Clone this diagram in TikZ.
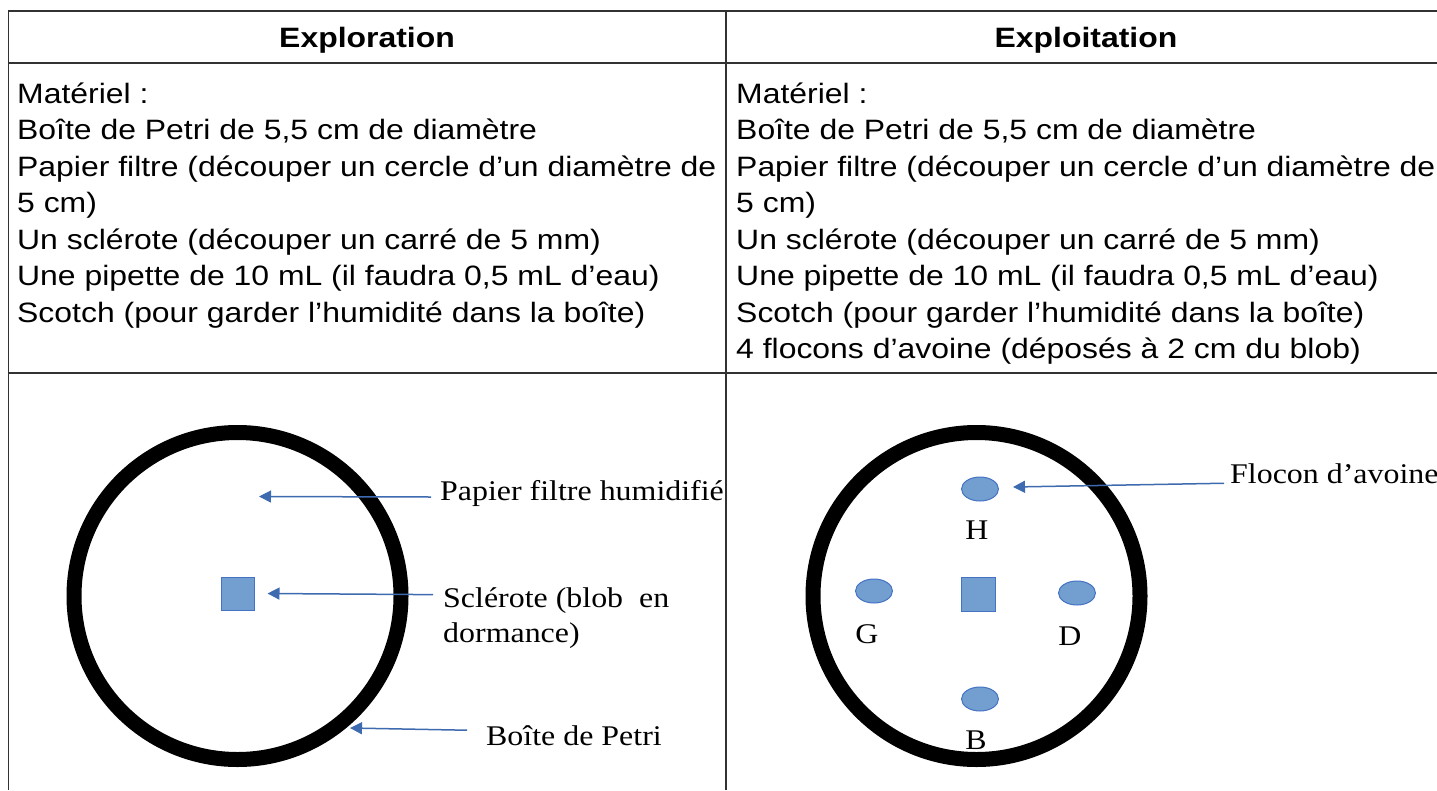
\documentclass[tikz,border=0pt]{standalone}
\usepackage{fontspec}
\setmainfont{Liberation Sans}[FakeStretch=1.14]
\newfontfamily\serifx{Liberation Serif}[FakeStretch=1.12]
\usetikzlibrary{arrows.meta,shapes.geometric}
\definecolor{gridc}{RGB}{50,50,50}
\definecolor{arrc}{RGB}{62,106,175}
\definecolor{fillc}{RGB}{114,159,207}
\definecolor{edgec}{RGB}{68,114,196}
\tikzset{
  grid line/.style={draw=gridc,line width=1.6pt},
  bodytxt/.style={anchor=base west,inner sep=0pt,font=\fontsize{28}{30}\selectfont},
  headtxt/.style={anchor=base,inner sep=0pt,font=\fontsize{28}{30}\selectfont\bfseries},
  lbl/.style={anchor=base west,inner sep=0pt,font=\serifx\fontsize{28.5}{30}\selectfont},
  letter/.style={anchor=base,inner sep=0pt,font=\serifx\fontsize{28.5}{30}\selectfont},
  callout/.style={draw=arrc,line width=1.5pt,-{Triangle[length=12pt,width=12pt]}},
  blob/.style={draw=edgec,line width=1pt,fill=fillc,inner sep=0pt},
  flake/.style={ellipse,draw=edgec,line width=1pt,fill=fillc,inner sep=0pt,minimum width=37pt,minimum height=24pt},
  dish/.style={draw=black,line width=15pt}
}
\begin{document}
\begin{tikzpicture}[x=1pt,y=-1pt]
\useasboundingbox (0,0) rectangle (1437,790);
% table
\draw[grid line] (8.5,11) -- (1437,11);
\draw[grid line] (8.5,63) -- (1437,63);
\draw[grid line] (8.5,373) -- (1437,373);
\draw[grid line] (8.5,10.2) -- (8.5,790);
\draw[grid line] (726,11) -- (726,790);
\node[headtxt] (h1) at (367,47) {Exploration};
\node[headtxt] (h2) at (1086,47) {Exploitation};
% column texts
\foreach \t [count=\i from 0] in {Matériel :,Boîte de Petri de 5{,}5 cm de diamètre,Papier filtre (découper un cercle d’un diamètre de,5 cm),Un sclérote (découper un carré de 5 mm),Une pipette de 10 mL (il faudra 0{,}5 mL d’eau),Scotch (pour garder l’humidité dans la boîte)}
  \node[bodytxt] (l\i) at (17,{103+36.5*\i}) {\t};
\foreach \t [count=\i from 0] in {Matériel :,Boîte de Petri de 5{,}5 cm de diamètre,Papier filtre (découper un cercle d’un diamètre de,5 cm),Un sclérote (découper un carré de 5 mm),Une pipette de 10 mL (il faudra 0{,}5 mL d’eau),Scotch (pour garder l’humidité dans la boîte),4 flocons d’avoine (déposés à 2 cm du blob)}
  \node[bodytxt] (r\i) at (736,{103+36.5*\i}) {\t};
% left dish
\draw[dish] (237.5,596) circle[radius=163.5];
\node[blob,minimum width=33pt,minimum height=33pt] (sq1) at (237.5,593.5) {};
\coordinate (paper) at (259,496.5);
\coordinate (rim) at (350,728);
\node[lbl] (lpap) at (440,500) {Papier filtre humidifié};
\node[lbl] (lscl) at (443,607) {Sclérote (blob\ \ en};
\node[lbl] (ldor) at (443,642) {dormance)};
\node[lbl] (lbox) at (486,745) {Boîte de Petri};
\draw[callout] ([xshift=-9pt,yshift=-4pt]lpap.west) -- (paper);
\draw[callout] ([xshift=-10pt,yshift=5.5pt]lscl.west) -- ([xshift=13pt]sq1.east);
\draw[callout] ([xshift=-19pt,yshift=5pt]lbox.west) -- (rim);
% right dish
\draw[dish] (976.5,596) circle[radius=163.5];
\node[blob,minimum width=34pt,minimum height=34pt] (sq2) at (978,594) {};
\node[flake] (fh) at (980,489) {};
\node[flake] (fg) at (874,591) {};
\node[flake] (fd) at (1077,593) {};
\node[flake] (fb) at (980,699) {};
\node[letter] (th) at (977,539) {H};
\node[letter] (tg) at (867,643) {G};
\node[letter] (td) at (1070,645) {D};
\node[letter] (tb) at (976,749) {B};
\coordinate (flk) at (1013,487);
\node[lbl] (lflo) at (1230,483) {Flocon d’avoine};
\draw[callout] ([xshift=-6pt,yshift=-10pt]lflo.west) -- (flk);
\end{tikzpicture}
\end{document}
